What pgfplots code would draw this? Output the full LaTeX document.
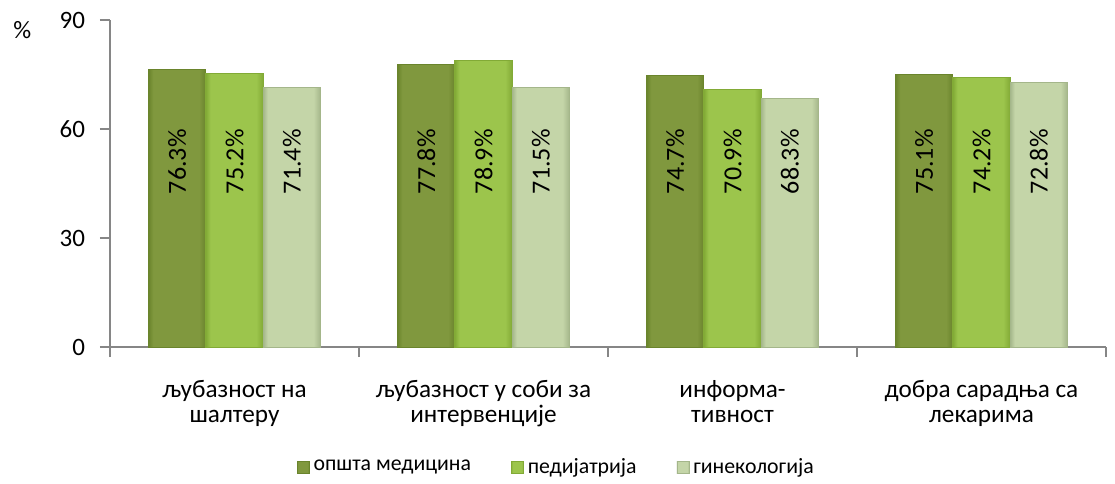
\documentclass[border=0pt]{standalone}
\usepackage{pgfplots}
\pgfplotsset{compat=1.18}
\usepackage{fontspec}
\setmainfont{Carlito}

\definecolor{gAm}{RGB}{128,152,62}
\definecolor{gAd}{RGB}{106,132,44}
\definecolor{gBm}{RGB}{156,197,76}
\definecolor{gBd}{RGB}{130,170,54}
\definecolor{gCm}{RGB}{196,213,168}
\definecolor{gCd}{RGB}{164,182,138}
\definecolor{axisgray}{RGB}{134,134,134}

% darker edge strips, lighter middle, one shading per bar
\pgfdeclarehorizontalshading{barA}{100bp}{color(0bp)=(gAd); color(25bp)=(gAd); color(29bp)=(gAm); color(69bp)=(gAm); color(75bp)=(gAd); color(100bp)=(gAd)}
\pgfdeclarehorizontalshading{barB}{100bp}{color(0bp)=(gBd); color(25bp)=(gBd); color(29bp)=(gBm); color(69bp)=(gBm); color(75bp)=(gBd); color(100bp)=(gBd)}
\pgfdeclarehorizontalshading{barC}{100bp}{color(0bp)=(gCd); color(25bp)=(gCd); color(29bp)=(gCm); color(69bp)=(gCm); color(75bp)=(gCd); color(100bp)=(gCd)}

\pgfplotsset{
  leg/.style={legend image code/.code={\path[##1] (0pt,-3pt) rectangle (6pt,3pt);}},
  serA/.style={ybar, bar width=0.23, bar shift=-0.23, draw=gAd, shading=barA, leg},
  serB/.style={ybar, bar width=0.23, bar shift=0, draw=gBd, shading=barB, leg},
  serC/.style={ybar, bar width=0.23, bar shift=0.23, draw=gCd, shading=barC, leg},
  lab/.style={draw=none, mark=none, forget plot,
    point meta=explicit symbolic, nodes near coords,
    every node near coord/.append style={rotate=90, anchor=center, font=\fontsize{13}{15}\selectfont, text=black}},
}

\begin{document}
\begin{tikzpicture}
\begin{axis}[
  at={(0,0)}, anchor=south west,
  scale only axis, width=498pt, height=163.5pt,
  xmin=-0.5, xmax=3.5, ymin=0, ymax=90,
  axis x line*=bottom, axis y line*=left,
  axis line style={draw=axisgray, line width=1pt},
  tick style={draw=axisgray, line width=1pt},
  tick align=outside, major tick length=5pt,
  /pgf/number format/assume math mode=true,
  ytick={0,30,60,90},
  yticklabel style={font=\fontsize{12.5}{14}\selectfont, xshift=-4pt},
  xtick={-0.5,0.5,1.5,2.5,3.5}, xticklabels={},
  extra x ticks={0,1,2,3},
  extra x tick labels={{љубазност на\\шалтеру},{љубазност у соби за\\интервенције},{информа-\\тивност},{добра сарадња са\\лекарима}},
  extra x tick style={major tick length=0pt,
    xticklabel style={align=center, font=\fontsize{12.6}{12.6}\selectfont, yshift=-13pt}},
  legend style={at={(rel axis cs:0.449,-0.367)}, anchor=center, draw=none, fill=none,
    legend columns=3, font=\fontsize{10.9}{12.5}\selectfont,
    nodes={inner sep=2pt},
    /tikz/every even column/.append style={column sep=18pt}},
  legend cell align=left,
  clip=false,
]
% општа медицина
\addplot[serA, forget plot] coordinates {(0,76.3)};
\addplot[serA, forget plot] coordinates {(1,77.8)};
\addplot[serA, forget plot] coordinates {(2,74.7)};
\addplot[serA, forget plot] coordinates {(3,75.1)};
% педијатрија
\addplot[serB, forget plot] coordinates {(0,75.2)};
\addplot[serB, forget plot] coordinates {(1,78.9)};
\addplot[serB, forget plot] coordinates {(2,70.9)};
\addplot[serB, forget plot] coordinates {(3,74.2)};
% гинекологија
\addplot[serC, forget plot] coordinates {(0,71.4)};
\addplot[serC, forget plot] coordinates {(1,71.5)};
\addplot[serC, forget plot] coordinates {(2,68.3)};
\addplot[serC, forget plot] coordinates {(3,72.8)};

\addlegendimage{serA}\addlegendentry{општа медицина}
\addlegendimage{serB}\addlegendentry{педијатрија}
\addlegendimage{serC}\addlegendentry{гинекологија}

% value labels, set at one height inside the bars
\addplot[lab] coordinates {(-0.23,51) [76.3\%] (0.77,51) [77.8\%] (1.77,51) [74.7\%] (2.77,51) [75.1\%]};
\addplot[lab] coordinates {(0,51) [75.2\%] (1,51) [78.9\%] (2,51) [70.9\%] (3,51) [74.2\%]};
\addplot[lab] coordinates {(0.23,51) [71.4\%] (1.23,51) [71.5\%] (2.23,51) [68.3\%] (3.23,51) [72.8\%]};

\node[font=\fontsize{12.5}{14}\selectfont] at (rel axis cs:-0.088,0.969) {\%};
\end{axis}
\pgfresetboundingbox
\path[use as bounding box] (-55pt,-68pt) rectangle (502.5pt,173.5pt);
\end{tikzpicture}
\end{document}
